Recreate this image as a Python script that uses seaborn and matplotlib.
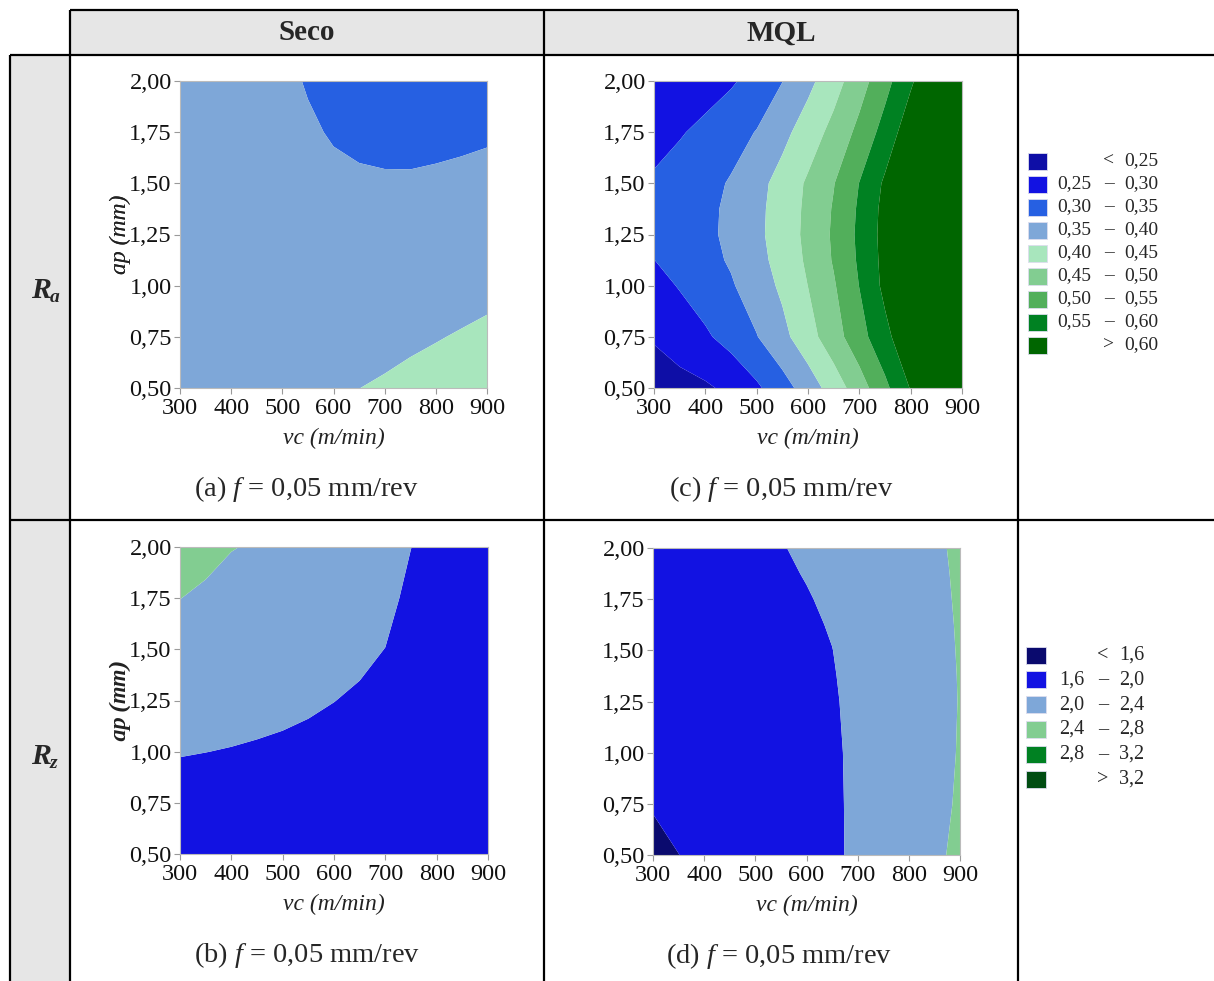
import numpy as np
import matplotlib
matplotlib.use("Agg")
import matplotlib.pyplot as plt
import seaborn as sns
from matplotlib.patches import Rectangle
from matplotlib.lines import Line2D
from matplotlib.ticker import FixedLocator, FuncFormatter

# ---------------- data ----------------
VC = [300, 350, 400, 450, 500, 550, 600, 650, 700, 750, 800, 850, 900]
AP = [0.50, 0.75, 1.00, 1.25, 1.50, 1.75, 2.00]
AP_RA_MQL = [0.50, 0.75, 1.00, 1.125, 1.25, 1.375, 1.50, 1.75, 2.00]
AP_RZ_MQL = [0.50, 0.75, 1.00, 1.25, 1.375, 1.50, 1.625, 1.75, 1.875, 2.00]

# Ra, dry (Seco) - rows follow AP, columns follow VC
RA_SECO = [
    [0.385, 0.386, 0.387, 0.388, 0.390, 0.393, 0.3972, 0.3998, 0.4035, 0.4082, 0.4126, 0.4172, 0.4219],
    [0.385, 0.386, 0.386, 0.386, 0.386, 0.387, 0.3872, 0.3885, 0.3910, 0.3946, 0.3983, 0.4024, 0.4066],
    [0.385, 0.385, 0.384, 0.383, 0.381, 0.380, 0.3772, 0.3771, 0.3785, 0.3809, 0.3840, 0.3875, 0.3913],
    [0.385, 0.384, 0.382, 0.380, 0.376, 0.372, 0.3672, 0.3658, 0.3660, 0.3673, 0.3697, 0.3727, 0.3760],
    [0.385, 0.383, 0.380, 0.376, 0.370, 0.3635, 0.3572, 0.3545, 0.3535, 0.3537, 0.3555, 0.3578, 0.3607],
    [0.385, 0.381, 0.377, 0.372, 0.364, 0.3545, 0.3472, 0.3432, 0.3410, 0.3401, 0.3412, 0.3430, 0.3454],
    [0.384, 0.379, 0.374, 0.367, 0.358, 0.3475, 0.3372, 0.3319, 0.3285, 0.3264, 0.3269, 0.3281, 0.3301],
]
# Ra, MQL - rows follow AP_RA_MQL
RA_MQL = [
    [0.222, 0.233, 0.243, 0.261, 0.292, 0.330, 0.373, 0.423, 0.477, 0.538, 0.603, 0.66, 0.71],
    [0.255, 0.274, 0.293, 0.318, 0.348, 0.386, 0.431, 0.479, 0.531, 0.586, 0.640, 0.69, 0.73],
    [0.284, 0.303, 0.324, 0.345, 0.375, 0.409, 0.4505, 0.495, 0.551, 0.6125, 0.66, 0.70, 0.74],
    [0.2995, 0.3174, 0.3353, 0.3552, 0.3843, 0.418, 0.4582, 0.5042, 0.557, 0.615, 0.665, 0.705, 0.745],
    [0.315, 0.328, 0.341, 0.359, 0.389, 0.423, 0.462, 0.507, 0.560, 0.617, 0.67, 0.71, 0.75],
    [0.310, 0.3248, 0.3396, 0.3587, 0.3878, 0.4216, 0.4603, 0.5042, 0.557, 0.615, 0.665, 0.705, 0.745],
    [0.305, 0.321, 0.336, 0.354, 0.384, 0.418, 0.457, 0.498, 0.551, 0.608, 0.66, 0.70, 0.74],
    [0.287, 0.296, 0.312, 0.332, 0.352, 0.386, 0.424, 0.465, 0.513, 0.569, 0.631, 0.68, 0.72],
    [0.249, 0.264, 0.279, 0.294, 0.318, 0.349, 0.387, 0.430, 0.479, 0.533, 0.5925, 0.65, 0.70],
]
# Rz, dry (Seco) - rows follow AP
RZ_SECO = [
    [1.754, 1.766, 1.780, 1.776, 1.771, 1.762, 1.748, 1.729, 1.697, 1.6275, 1.640, 1.650, 1.670],
    [1.884, 1.884, 1.885, 1.876, 1.866, 1.852, 1.833, 1.809, 1.772, 1.690, 1.685, 1.685, 1.6975],
    [2.014, 2.002, 1.990, 1.976, 1.961, 1.942, 1.918, 1.889, 1.847, 1.753, 1.730, 1.720, 1.725],
    [2.144, 2.121, 2.095, 2.076, 2.056, 2.032, 2.003, 1.969, 1.922, 1.815, 1.775, 1.755, 1.753],
    [2.274, 2.239, 2.200, 2.176, 2.151, 2.122, 2.088, 2.049, 1.997, 1.878, 1.820, 1.790, 1.780],
    [2.403, 2.357, 2.305, 2.276, 2.246, 2.212, 2.173, 2.129, 2.072, 1.940, 1.865, 1.825, 1.808],
    [2.533, 2.475, 2.410, 2.376, 2.341, 2.302, 2.258, 2.209, 2.147, 2.0025, 1.910, 1.860, 1.835],
]
# Rz, MQL - rows follow AP_RZ_MQL
RZ_MQL = [
    [1.560, 1.598, 1.660, 1.721, 1.781, 1.842, 1.902, 1.963, 2.040, 2.144, 2.248, 2.352, 2.456],
    [1.610, 1.661, 1.712, 1.763, 1.815, 1.866, 1.917, 1.968, 2.037, 2.135, 2.233, 2.331, 2.429],
    [1.650, 1.696, 1.742, 1.788, 1.834, 1.880, 1.926, 1.972, 2.038, 2.132, 2.226, 2.321, 2.415],
    [1.670, 1.714, 1.758, 1.803, 1.847, 1.891, 1.935, 1.980, 2.049, 2.139, 2.229, 2.319, 2.409],
    [1.675, 1.7195, 1.764, 1.809, 1.853, 1.898, 1.942, 1.987, 2.061, 2.149, 2.236, 2.324, 2.411],
    [1.680, 1.725, 1.771, 1.816, 1.861, 1.907, 1.952, 1.997, 2.079, 2.163, 2.247, 2.331, 2.415],
    [1.685, 1.731, 1.778, 1.824, 1.870, 1.917, 1.963, 2.016, 2.097, 2.177, 2.258, 2.339, 2.419],
    [1.690, 1.739, 1.787, 1.836, 1.884, 1.933, 1.982, 2.047, 2.122, 2.198, 2.273, 2.349, 2.424],
    [1.695, 1.748, 1.800, 1.853, 1.905, 1.958, 2.014, 2.083, 2.152, 2.221, 2.290, 2.359, 2.428],
    [1.700, 1.757, 1.814, 1.871, 1.928, 1.985, 2.048, 2.112, 2.176, 2.240, 2.305, 2.369, 2.433],
]

RA_LEVELS = [0.25, 0.30, 0.35, 0.40, 0.45, 0.50, 0.55, 0.60]
RZ_LEVELS = [1.6, 2.0, 2.4, 2.8, 3.2]
RA_COLORS = ["#0E0EA6", "#1212E2", "#2660E2", "#7EA7D8", "#A8E6BD",
             "#82CD91", "#52AF5B", "#008122", "#006600"]
RZ_COLORS = ["#0A0A6E", "#1212E2", "#7EA7D8", "#82CD91", "#008122", "#004D12"]

VC_TICKS = [300, 400, 500, 600, 700, 800, 900]
AP_TICKS = [0.50, 0.75, 1.00, 1.25, 1.50, 1.75, 2.00]
COLUMN_TITLES = ["Seco", "MQL"]
ROW_SUBSCRIPTS = ["a", "z"]
CAPTION_TAGS = [["(a)", "(c)"], ["(b)", "(d)"]]
CAPTION_TEXT = "$f$ = 0,05 mm/rev"
XLABEL = "vc (m/min)"
YLABEL = "ap (mm)"

# ---------------- style ----------------
sns.set_theme(style="white")
plt.rcParams["font.family"] = ["Liberation Serif", "DejaVu Serif"]
plt.rcParams["mathtext.fontset"] = "custom"
plt.rcParams["mathtext.rm"] = "Liberation Serif"
plt.rcParams["mathtext.it"] = "Liberation Serif:italic"
plt.rcParams["mathtext.bf"] = "Liberation Serif:bold"

W, H = 1214, 981
fig = plt.figure(figsize=(W / 100, H / 100), dpi=100)
fig.patch.set_facecolor("white")


def fx(x):
    return x / W


def fy(y):
    return 1 - y / H


def hline(y, x0, x1, lw=1.6):
    fig.add_artist(Line2D([fx(x0), fx(x1)], [fy(y), fy(y)], transform=fig.transFigure,
                          color="black", lw=lw, solid_capstyle="butt"))


def vline(x, y0, y1, lw=1.6):
    fig.add_artist(Line2D([fx(x), fx(x)], [fy(y0), fy(y1)], transform=fig.transFigure,
                          color="black", lw=lw, solid_capstyle="butt"))


def grey_cell(x0, y0, x1, y1):
    fig.add_artist(Rectangle((fx(x0), fy(y1)), fx(x1) - fx(x0), fy(y0) - fy(y1),
                             transform=fig.transFigure, facecolor="#E6E6E6",
                             edgecolor="none", zorder=0))


# table background cells
grey_cell(70, 10, 1018, 55)
grey_cell(10, 55, 70, 981)

# table lines
hline(10, 70, 1018)
hline(55, 10, 1214)
hline(520, 10, 1214)
vline(10, 55, 981)
vline(70, 10, 981)
vline(544, 10, 981)
vline(1018, 10, 981)

# column titles
for title, xc in zip(COLUMN_TITLES, [307, 781]):
    fig.text(fx(xc), fy(33), title, ha="center", va="center", fontsize=21, fontweight="bold")

# row titles (R with subscript)
for sub, yc in zip(ROW_SUBSCRIPTS, [291, 757]):
    fig.text(fx(51), fy(yc), "R", ha="right", va="center",
             fontsize=21.5, fontweight="bold", style="italic")
    fig.text(fx(50), fy(yc + 7), sub, ha="left", va="center",
             fontsize=14, fontweight="bold", style="italic")

# ---------------- contour panels ----------------
panels = [
    ((180, 81, 487, 388), AP, RA_SECO, RA_LEVELS, RA_COLORS, 0, 0),
    ((654, 81, 962, 388), AP_RA_MQL, RA_MQL, RA_LEVELS, RA_COLORS, 0, 1),
    ((180, 547, 488, 854), AP, RZ_SECO, RZ_LEVELS, RZ_COLORS, 1, 0),
    ((653, 548, 960, 855), AP_RZ_MQL, RZ_MQL, RZ_LEVELS, RZ_COLORS, 1, 1),
]

for (x0, y0, x1, y1), ap, vals, levels, colors, r, c in panels:
    ax = fig.add_axes([fx(x0), fy(y1), fx(x1) - fx(x0), fy(y0) - fy(y1)])
    Z = np.array(vals, dtype=float)
    Xg, Yg = np.meshgrid(np.array(VC, dtype=float), np.array(ap, dtype=float))
    bounds = [-100.0] + list(levels) + [100.0]
    ax.contourf(Xg, Yg, Z, levels=bounds, colors=colors, antialiased=True)
    ax.set_xlim(300, 900)
    ax.set_ylim(0.5, 2.0)
    ax.xaxis.set_major_locator(FixedLocator(VC_TICKS))
    ax.yaxis.set_major_locator(FixedLocator(AP_TICKS))
    ax.xaxis.set_major_formatter(FuncFormatter(lambda v, p: f"{v:.0f}"))
    ax.yaxis.set_major_formatter(FuncFormatter(lambda v, p: f"{v:.2f}".replace(".", ",")))
    ax.tick_params(axis="both", direction="out", length=4, width=0.8, color="#9A9A9A",
                   labelsize=17.5, pad=2, labelcolor="#111111")
    ax.tick_params(axis="y", left=True)
    ax.tick_params(axis="x", bottom=True, pad=3)
    for s in ax.spines.values():
        s.set_color("#BBBBBB")
        s.set_linewidth(0.8)
    ax.set_xlabel("")
    ax.set_ylabel("")
    ax.text(0.5, -50 / (y1 - y0), XLABEL, transform=ax.transAxes,
            ha="center", va="center", fontsize=17, style="italic", color="#222222")
    ax.text((120 - x0) / (x1 - x0), 0.5, YLABEL, transform=ax.transAxes, rotation=90,
            ha="center", va="center", fontsize=17, style="italic", color="#222222")
    fig.text(fx((x0 + x1) / 2 - 27), fy(y1 + 101), CAPTION_TAGS[r][c] + " " + CAPTION_TEXT,
             ha="center", va="center", fontsize=20.5)


# ---------------- legends ----------------
def fmt(v, nd):
    return f"{v:.{nd}f}".replace(".", ",")


def draw_legend(levels, colors, nd, sq_x0, sq_x1, y_first, dy, x_num_r, x_dash, x_num_l, fs):
    n = len(colors)
    for i in range(n):
        yc = y_first + i * dy
        fig.add_artist(Rectangle((fx(sq_x0), fy(yc + 8.5)), fx(sq_x1) - fx(sq_x0), 17 / H,
                                 transform=fig.transFigure, facecolor=colors[i],
                                 edgecolor="#DDDDEE", lw=0.6))
        if i == 0:
            fig.text(fx(x_dash), fy(yc), "<", ha="center", va="center", fontsize=fs)
            fig.text(fx(x_num_l), fy(yc), fmt(levels[0], nd), ha="left", va="center", fontsize=fs)
        elif i == n - 1:
            fig.text(fx(x_dash), fy(yc), ">", ha="center", va="center", fontsize=fs)
            fig.text(fx(x_num_l), fy(yc), fmt(levels[-1], nd), ha="left", va="center", fontsize=fs)
        else:
            fig.text(fx(x_num_r), fy(yc), fmt(levels[i - 1], nd), ha="right", va="center", fontsize=fs)
            fig.text(fx(x_dash), fy(yc), "\u2013", ha="center", va="center", fontsize=fs)
            fig.text(fx(x_num_l), fy(yc), fmt(levels[i], nd), ha="left", va="center", fontsize=fs)


draw_legend(RA_LEVELS, RA_COLORS, 2, 1028, 1047, 161, 23, 1091, 1109, 1124, 14)
draw_legend(RZ_LEVELS, RZ_COLORS, 1, 1026, 1046, 655, 24.8, 1084, 1103, 1119, 14.5)

fig.savefig("out.png", dpi=100, facecolor="white")
